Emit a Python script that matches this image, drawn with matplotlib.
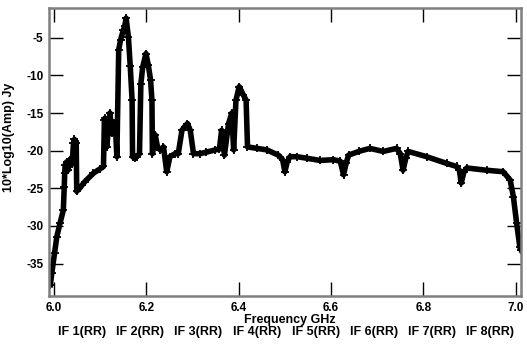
import matplotlib
matplotlib.use("Agg")
import matplotlib.pyplot as plt
import matplotlib.transforms as mtransforms

# spectrum (GHz, 10*log10 amp)
freq = [5.992, 5.995, 6.001, 6.006, 6.013, 6.020, 6.022, 6.023, 6.024, 6.027,
        6.030, 6.033, 6.035, 6.038, 6.040, 6.042, 6.044, 6.046, 6.048, 6.049,
        6.055, 6.067, 6.085, 6.100, 6.107, 6.109, 6.110, 6.114, 6.118, 6.121,
        6.125, 6.130, 6.133, 6.136, 6.140, 6.144, 6.150, 6.153, 6.156, 6.161,
        6.165, 6.169, 6.170, 6.175, 6.179, 6.185, 6.188, 6.192, 6.199, 6.204,
        6.209, 6.212, 6.213, 6.219, 6.224, 6.230, 6.237, 6.244, 6.251, 6.262,
        6.269, 6.277, 6.283, 6.289, 6.295, 6.302, 6.316, 6.330, 6.349, 6.358,
        6.363, 6.369, 6.378, 6.385, 6.389, 6.394, 6.401, 6.410, 6.416, 6.419,
        6.440, 6.461, 6.486, 6.495, 6.500, 6.505, 6.511, 6.526, 6.547, 6.576,
        6.605, 6.620, 6.627, 6.633, 6.638, 6.660, 6.684, 6.713, 6.742, 6.750,
        6.756, 6.762, 6.767, 6.807, 6.851, 6.872, 6.878, 6.882, 6.888, 6.894,
        6.937, 6.973, 6.988, 6.995, 7.002, 7.009, 7.012]
level = [-37.8, -36.3, -33.6, -31.4, -29.6, -27.9, -24.8, -23.0, -21.9, -21.5,
         -22.6, -21.4, -21.2, -21.8, -21.0, -19.0, -18.5, -18.7, -19.0, -25.4,
         -25.0, -24.1, -23.0, -22.4, -22.1, -15.9, -15.7, -19.5, -17.0, -15.0,
         -17.7, -16.3, -17.0, -20.8, -6.6, -5.3, -4.0, -3.5, -2.4, -4.9,
         -8.8, -13.3, -20.8, -21.0, -20.8, -20.4, -11.1, -8.9, -7.1, -8.6,
         -10.6, -13.3, -20.4, -17.9, -19.5, -19.9, -19.5, -22.8, -20.8, -20.4,
         -20.4, -17.3, -16.8, -16.4, -17.3, -20.4, -20.4, -20.2, -19.9, -19.8,
         -17.3, -20.6, -16.4, -15.0, -19.9, -13.3, -11.5, -12.6, -13.3, -19.5,
         -19.7, -19.9, -20.6, -21.2, -22.8, -21.5, -20.8, -20.8, -21.0, -21.3,
         -21.2, -21.4, -23.2, -21.6, -20.6, -20.1, -19.7, -20.1, -19.7, -20.4,
         -22.6, -21.0, -20.1, -20.8, -21.7, -22.1, -22.6, -24.3, -22.8, -22.3,
         -22.6, -22.8, -23.9, -26.1, -29.6, -32.8, -33.2]

xticks = [6.0, 6.2, 6.4, 6.6, 6.8, 7.0]
yticks = [-35, -30, -25, -20, -15, -10, -5]
if_names = ["IF 1(RR)", "IF 2(RR)", "IF 3(RR)", "IF 4(RR)",
            "IF 5(RR)", "IF 6(RR)", "IF 7(RR)", "IF 8(RR)"]
if_centers = [6.060, 6.186, 6.312, 6.439, 6.567, 6.693, 6.819, 6.944]

plt.rcParams['font.family'] = ['Liberation Sans', 'DejaVu Sans']
plt.rcParams['font.weight'] = 'bold'
plt.rcParams['axes.unicode_minus'] = False

fig = plt.figure(figsize=(5.27, 3.44), dpi=100)
ax = fig.add_axes([0.093, 0.1395, 0.8956, 0.8385])

ax.plot(freq, level, color='black', lw=4, marker='+', ms=6, mew=1.3)

ax.set_xlim(5.989, 7.0115)
ax.set_ylim(-39.3, -1.0)
ax.set_xticks(xticks)
ax.set_xticklabels(["%.1f" % t for t in xticks])
ax.set_yticks(yticks)
ax.tick_params(direction='in', length=10, width=1, color='black',
               top=True, right=True, labelsize=8.5, pad=4)
for s in ax.spines.values():
    s.set_color('#7f7f7f')
    s.set_linewidth(1.8)

ax.set_ylabel("10*Log10(Amp) Jy", fontsize=9, fontweight='bold')
ax.yaxis.set_label_coords(-0.072, 0.549)
fig.text(290 / 527, 1 - 320 / 344, "Frequency GHz",
         ha='center', va='center', fontsize=9, fontweight='bold')

# IF labels under the frequency label: x in data, y in figure coords
trans = mtransforms.blended_transform_factory(ax.transData, fig.transFigure)
for name, c in zip(if_names, if_centers):
    ax.text(c, 1 - 332 / 344, name, transform=trans,
            ha='center', va='center', fontsize=9, fontweight='bold')

fig.savefig("out.png", dpi=100)
